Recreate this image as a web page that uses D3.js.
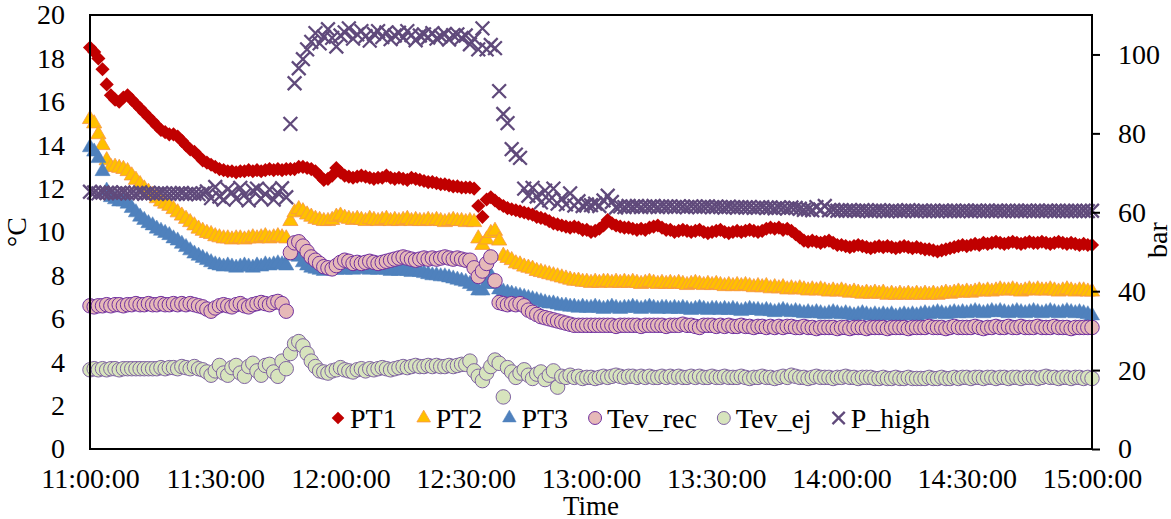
<!DOCTYPE html>
<html>
<head>
<meta charset="utf-8">
<script src="https://cdn.jsdelivr.net/npm/d3@7"></script>
<style>
  body { margin: 0; background: #fff; }
  svg { display: block; font-family: "Liberation Serif", "Times New Roman", serif; }
</style>
</head>
<body>
<svg id="chart"></svg>
<script>
// samples every minute from 11:00:00 to 15:00:00
var startTime = '11:00:00'
var stepMinutes = 1

var timeTicks = ['11:00:00', '11:30:00', '12:00:00', '12:30:00', '13:00:00', '13:30:00', '14:00:00', '14:30:00', '15:00:00']
var tempTicks = [0, 2, 4, 6, 8, 10, 12, 14, 16, 18, 20]
var pressTicks = [0, 20, 40, 60, 80, 100]

var seriesNames = ['PT1', 'PT2', 'PT3', 'Tev_rec', 'Tev_ej', 'P_high']

var pt1 = [
  18.5, 18.3, 18.0, 17.5, 16.8, 16.3, 16.1, 16.0, 16.2, 16.3,
  16.1, 15.9, 15.7, 15.5, 15.3, 15.1, 14.9, 14.7, 14.6, 14.5,
  14.5, 14.4, 14.2, 14.0, 13.8, 13.7, 13.5, 13.3, 13.2, 13.1,
  13.0, 12.9, 12.85, 12.8, 12.8, 12.75, 12.8, 12.8, 12.85, 12.8,
  12.85, 12.8, 12.85, 12.9, 12.85, 12.9, 12.85, 12.9, 12.9, 12.9,
  13.0, 13.0, 12.95, 12.9, 12.8, 12.6, 12.4, 12.45, 12.6, 12.95,
  12.75, 12.6, 12.55, 12.5, 12.55, 12.6, 12.55, 12.5, 12.45, 12.5,
  12.5, 12.6, 12.5, 12.45, 12.5, 12.45, 12.4, 12.5, 12.45, 12.4,
  12.35, 12.3, 12.3, 12.25, 12.2, 12.2, 12.15, 12.1, 12.1, 12.05,
  12.05, 12.05, 12.0, 11.2, 10.7, 11.5, 11.6, 11.45, 11.3, 11.2,
  11.1, 11.05, 11.0, 10.95, 10.9, 10.85, 10.8, 10.7, 10.65, 10.6,
  10.5, 10.4, 10.35, 10.3, 10.25, 10.2, 10.25, 10.2, 10.1, 10.1,
  10.0, 10.05, 10.15, 10.3, 10.55, 10.4, 10.3, 10.25, 10.2, 10.2,
  10.15, 10.1, 10.15, 10.1, 10.2, 10.25, 10.3, 10.2, 10.1, 10.1,
  10.0, 10.05, 10.1, 10.05, 10.0, 10.05, 10.1, 10.0, 9.95, 10.0,
  10.05, 10.1, 10.0, 9.95, 10.0, 10.05, 10.0, 10.05, 10.1, 10.05,
  10.0, 10.05, 10.15, 10.2, 10.15, 10.2, 10.1, 10.15, 10.05, 9.9,
  9.75, 9.6, 9.55, 9.6, 9.55, 9.5, 9.55, 9.6, 9.5, 9.4,
  9.4, 9.35, 9.3, 9.35, 9.4, 9.35, 9.3, 9.25, 9.3, 9.35,
  9.3, 9.35, 9.3, 9.25, 9.3, 9.35, 9.3, 9.25, 9.3, 9.25,
  9.2, 9.2, 9.15, 9.1, 9.15, 9.2, 9.25, 9.3, 9.35, 9.4,
  9.35, 9.4, 9.45, 9.4, 9.5, 9.45, 9.5, 9.55, 9.5, 9.45,
  9.5, 9.55, 9.5, 9.45, 9.5, 9.55, 9.5, 9.5, 9.55, 9.5,
  9.45, 9.5, 9.55, 9.5, 9.45, 9.5, 9.45, 9.4, 9.45, 9.4, 9.4
]

var pt2 = [
  15.2, 15.0, 14.5, 14.0, 13.3, 13.0, 13.0, 12.95, 12.9, 12.8,
  12.6, 12.4, 12.2, 12.0, 11.85, 11.7, 11.55, 11.4, 11.3, 11.2,
  11.05, 10.9, 10.75, 10.6, 10.45, 10.3, 10.15, 10.05, 9.95, 9.9,
  9.8, 9.75, 9.7, 9.7, 9.65, 9.7, 9.7, 9.65, 9.7, 9.75,
  9.7, 9.75, 9.8, 9.7, 9.75, 9.8, 9.75, 9.7, 10.5, 10.9,
  11.05, 10.95, 10.8, 10.7, 10.6, 10.55, 10.5, 10.5, 10.55, 10.7,
  10.75, 10.65, 10.6, 10.55, 10.6, 10.55, 10.5, 10.6, 10.55, 10.5,
  10.55, 10.6, 10.5, 10.55, 10.5, 10.55, 10.6, 10.5, 10.55, 10.5,
  10.5, 10.55, 10.5, 10.55, 10.5, 10.45, 10.5, 10.55, 10.5, 10.5,
  10.45, 10.5, 10.45, 9.7, 9.4, 9.65, 9.95, 10.05, 9.6, 8.9,
  8.8, 8.7, 8.55, 8.5, 8.4, 8.35, 8.3, 8.2, 8.15, 8.1,
  8.05, 8.0, 7.95, 7.9, 7.85, 7.8, 7.75, 7.75, 7.7, 7.7,
  7.65, 7.7, 7.65, 7.7, 7.7, 7.65, 7.7, 7.65, 7.7, 7.65,
  7.7, 7.65, 7.6, 7.65, 7.7, 7.65, 7.6, 7.65, 7.6, 7.65,
  7.6, 7.65, 7.6, 7.55, 7.6, 7.65, 7.6, 7.55, 7.6, 7.55,
  7.6, 7.55, 7.5, 7.55, 7.5, 7.55, 7.5, 7.55, 7.5, 7.45,
  7.5, 7.45, 7.5, 7.4, 7.45, 7.4, 7.45, 7.35, 7.4, 7.35,
  7.4, 7.35, 7.3, 7.35, 7.3, 7.35, 7.3, 7.25, 7.3, 7.25,
  7.3, 7.25, 7.2, 7.25, 7.2, 7.15, 7.2, 7.15, 7.2, 7.15,
  7.2, 7.1, 7.15, 7.1, 7.15, 7.1, 7.15, 7.1, 7.15, 7.1,
  7.15, 7.1, 7.15, 7.1, 7.15, 7.2, 7.15, 7.2, 7.25, 7.2,
  7.25, 7.2, 7.25, 7.3, 7.25, 7.3, 7.25, 7.3, 7.35, 7.3,
  7.3, 7.35, 7.3, 7.25, 7.3, 7.35, 7.3, 7.35, 7.3, 7.3,
  7.35, 7.3, 7.25, 7.3, 7.35, 7.3, 7.25, 7.3, 7.3, 7.25, 7.25
]

var pt3 = [
  13.9, 13.7, 13.4, 12.8, 11.9, 11.6, 11.5, 11.4, 11.4, 11.3,
  11.1, 10.9, 10.7, 10.55, 10.4, 10.3, 10.15, 10.05, 9.95, 9.85,
  9.7, 9.6, 9.45, 9.3, 9.15, 9.0, 8.9, 8.8, 8.7, 8.6,
  8.5, 8.45, 8.4, 8.45, 8.4, 8.35, 8.4, 8.45, 8.4, 8.35,
  8.45, 8.4, 8.5, 8.45, 8.5, 8.55, 8.5, 8.45, 8.9, 9.1,
  8.85, 8.6, 8.45, 8.35, 8.3, 8.25, 8.2, 8.25, 8.3, 8.25,
  8.3, 8.25, 8.3, 8.25, 8.3, 8.35, 8.3, 8.25, 8.3, 8.25,
  8.3, 8.25, 8.2, 8.25, 8.2, 8.25, 8.2, 8.15, 8.2, 8.15,
  8.1, 8.05, 8.0, 8.0, 7.95, 7.95, 7.9, 7.85, 7.8, 7.75,
  7.7, 7.6, 7.5, 7.3, 7.3, 7.6, 8.0, 7.6, 7.35, 7.25,
  7.2, 7.15, 7.1, 7.05, 7.0, 6.95, 6.9, 6.85, 6.8, 6.75,
  6.7, 6.7, 6.65, 6.6, 6.6, 6.55, 6.55, 6.5, 6.55, 6.5,
  6.5, 6.55, 6.5, 6.45, 6.5, 6.55, 6.5, 6.45, 6.5, 6.5,
  6.55, 6.5, 6.45, 6.5, 6.55, 6.5, 6.45, 6.5, 6.5, 6.45,
  6.5, 6.45, 6.5, 6.45, 6.4, 6.45, 6.5, 6.45, 6.4, 6.45,
  6.45, 6.4, 6.45, 6.4, 6.45, 6.4, 6.35, 6.4, 6.45, 6.4,
  6.4, 6.35, 6.4, 6.35, 6.3, 6.35, 6.4, 6.35, 6.3, 6.35,
  6.3, 6.25, 6.3, 6.25, 6.3, 6.25, 6.2, 6.25, 6.3, 6.25,
  6.2, 6.25, 6.2, 6.15, 6.2, 6.25, 6.2, 6.15, 6.2, 6.15,
  6.2, 6.15, 6.2, 6.1, 6.15, 6.2, 6.15, 6.2, 6.15, 6.2,
  6.25, 6.2, 6.25, 6.3, 6.25, 6.2, 6.25, 6.3, 6.25, 6.3,
  6.25, 6.3, 6.35, 6.3, 6.25, 6.3, 6.35, 6.3, 6.35, 6.3,
  6.25, 6.3, 6.35, 6.3, 6.25, 6.3, 6.35, 6.3, 6.25, 6.3,
  6.35, 6.3, 6.25, 6.3, 6.35, 6.3, 6.25, 6.3, 6.25, 6.2, 6.15
]

var tevRec = [
  6.6, 6.55, 6.6, 6.6, 6.65, 6.6, 6.65, 6.65, 6.6, 6.65,
  6.65, 6.7, 6.65, 6.65, 6.7, 6.65, 6.65, 6.7, 6.65, 6.65,
  6.7, 6.65, 6.7, 6.65, 6.7, 6.65, 6.6, 6.55, 6.45, 6.35,
  6.5, 6.6, 6.65, 6.6, 6.55, 6.65, 6.7, 6.6, 6.55, 6.65,
  6.7, 6.75, 6.7, 6.65, 6.75, 6.8, 6.7, 6.35, 9.05, 9.5,
  9.55, 9.35, 9.1, 8.85, 8.7, 8.55, 8.4, 8.35, 8.3, 8.45,
  8.6, 8.7, 8.65, 8.55, 8.6, 8.55, 8.6, 8.65, 8.6, 8.55,
  8.6, 8.65, 8.7, 8.75, 8.8, 8.85, 8.8, 8.75, 8.7, 8.75,
  8.8, 8.75, 8.8, 8.75, 8.8, 8.85, 8.8, 8.75, 8.8, 8.75,
  8.7, 8.7, 8.35, 7.95, 8.2, 8.55, 8.85, 7.75, 6.75, 6.7,
  6.65, 6.7, 6.65, 6.7, 6.6, 6.4, 6.3, 6.2, 6.1, 6.05,
  6.0, 5.95, 5.9, 5.85, 5.8, 5.75, 5.7, 5.7, 5.7, 5.7,
  5.7, 5.7, 5.7, 5.7, 5.7, 5.7, 5.65, 5.7, 5.7, 5.7,
  5.7, 5.7, 5.65, 5.7, 5.7, 5.7, 5.7, 5.7, 5.65, 5.7,
  5.7, 5.7, 5.75, 5.7, 5.7, 5.65, 5.6, 5.7, 5.7, 5.7,
  5.65, 5.7, 5.65, 5.7, 5.65, 5.65, 5.7, 5.65, 5.65, 5.6,
  5.65, 5.65, 5.6, 5.65, 5.6, 5.65, 5.6, 5.65, 5.65, 5.6,
  5.6, 5.65, 5.6, 5.6, 5.55, 5.6, 5.6, 5.6, 5.6, 5.55,
  5.6, 5.6, 5.55, 5.6, 5.6, 5.6, 5.55, 5.6, 5.6, 5.6,
  5.6, 5.55, 5.6, 5.6, 5.6, 5.6, 5.55, 5.6, 5.6, 5.6,
  5.6, 5.65, 5.6, 5.6, 5.6, 5.55, 5.6, 5.65, 5.6, 5.6,
  5.6, 5.6, 5.65, 5.6, 5.55, 5.6, 5.6, 5.65, 5.6, 5.6,
  5.65, 5.6, 5.6, 5.65, 5.6, 5.6, 5.6, 5.65, 5.6, 5.6,
  5.6, 5.65, 5.6, 5.6, 5.6, 5.55, 5.6, 5.6, 5.6, 5.6, 5.6
]

var tevEj = [
  3.65, 3.7, 3.65, 3.7, 3.65, 3.7, 3.7, 3.65, 3.7, 3.7,
  3.7, 3.7, 3.7, 3.7, 3.7, 3.7, 3.7, 3.75, 3.7, 3.75,
  3.75, 3.7, 3.8, 3.75, 3.7, 3.8, 3.7, 3.65, 3.55, 3.4,
  3.6, 3.85, 3.5, 3.4, 3.75, 3.85, 3.5, 3.35, 3.8, 3.95,
  3.6, 3.4, 3.85, 3.9, 3.55, 3.35, 4.05, 3.7, 4.4, 4.85,
  4.95, 4.75, 4.4, 4.05, 3.8, 3.6, 3.55, 3.5, 3.6, 3.65,
  3.75, 3.65, 3.6, 3.55, 3.65, 3.7, 3.6, 3.7, 3.65, 3.7,
  3.75, 3.7, 3.65, 3.7, 3.75, 3.8, 3.75, 3.8, 3.85, 3.8,
  3.8, 3.85, 3.8, 3.85, 3.8, 3.8, 3.85, 3.8, 3.85, 3.9,
  3.9, 4.05, 3.6, 3.35, 3.15, 3.5, 3.8, 4.1, 3.95, 2.4,
  3.75, 3.55, 3.3, 3.5, 3.65, 3.4, 3.25, 3.45, 3.55, 3.2,
  3.4, 3.6, 2.85, 3.35, 3.3, 3.4, 3.3, 3.35, 3.25, 3.3,
  3.3, 3.25, 3.3, 3.35, 3.3, 3.35, 3.4, 3.35, 3.3, 3.35,
  3.35, 3.3, 3.35, 3.3, 3.35, 3.3, 3.3, 3.35, 3.3, 3.35,
  3.3, 3.35, 3.3, 3.3, 3.35, 3.3, 3.35, 3.3, 3.3, 3.35,
  3.3, 3.3, 3.35, 3.3, 3.3, 3.3, 3.35, 3.3, 3.25, 3.3,
  3.3, 3.35, 3.3, 3.3, 3.25, 3.3, 3.35, 3.3, 3.4, 3.35,
  3.3, 3.3, 3.25, 3.3, 3.35, 3.3, 3.3, 3.3, 3.25, 3.3,
  3.3, 3.35, 3.3, 3.3, 3.25, 3.3, 3.3, 3.3, 3.25, 3.25,
  3.3, 3.25, 3.25, 3.3, 3.25, 3.25, 3.3, 3.25, 3.25, 3.25,
  3.25, 3.3, 3.25, 3.25, 3.3, 3.25, 3.25, 3.3, 3.25, 3.3,
  3.3, 3.25, 3.3, 3.3, 3.25, 3.3, 3.3, 3.25, 3.3, 3.3,
  3.25, 3.3, 3.3, 3.25, 3.3, 3.3, 3.3, 3.25, 3.3, 3.35,
  3.3, 3.3, 3.25, 3.3, 3.3, 3.25, 3.3, 3.3, 3.25, 3.3, 3.25
]

var pHigh = [
  65.2, 65.0, 64.8, 65.0, 64.9, 65.0, 64.8, 64.9, 65.0, 64.8,
  64.9, 64.8, 65.0, 64.7, 64.9, 64.8, 64.7, 64.9, 64.8, 64.7,
  64.8, 64.7, 64.9, 64.6, 64.8, 64.7, 64.6, 64.8, 65.3, 63.6,
  66.4, 64.0, 63.2, 65.8, 65.0, 63.4, 66.2, 64.4, 63.0, 65.5,
  66.0, 63.5, 64.6, 65.8, 63.2, 64.9, 66.1, 63.8, 82.4, 92.7,
  96.5, 98.8, 101.3, 103.2, 105.4, 102.8, 104.5, 106.4, 104.2, 102.0,
  104.8, 105.6, 106.6, 104.0, 105.1, 105.9, 104.6, 103.5, 105.2, 105.9,
  104.4, 105.6, 103.9, 104.8, 105.5, 104.2, 105.9, 104.9, 103.6, 104.8,
  105.1, 104.3, 105.4, 104.0, 104.6, 105.2, 103.8, 104.9, 105.1, 104.2,
  104.8, 102.6, 104.0, 101.3, 106.6, 101.3, 102.4, 101.6, 90.7, 84.9,
  82.6, 76.0, 74.6, 73.8, 66.0, 64.2, 66.2, 64.0, 62.5, 65.5,
  63.0, 66.0, 62.2, 63.5, 62.0, 64.8, 61.7, 62.8, 61.6, 62.0,
  61.8, 62.2, 61.6, 63.0, 64.2, 62.6, 61.2, 61.5, 61.3, 61.6,
  61.4, 61.6, 61.3, 61.5, 61.4, 61.6, 61.3, 61.5, 61.4, 61.5,
  61.3, 61.5, 61.4, 61.3, 61.5, 61.4, 61.3, 61.4, 61.5, 61.3,
  61.4, 61.3, 61.2, 61.4, 61.3, 61.2, 61.3, 61.2, 61.3, 61.1,
  61.2, 61.3, 61.1, 61.2, 61.0, 61.2, 61.1, 61.0, 61.2, 61.1,
  60.9, 60.6, 60.7, 60.5, 61.3, 60.6, 61.6, 60.5, 60.6, 60.4,
  60.5, 60.4, 60.5, 60.4, 60.4, 60.5, 60.4, 60.3, 60.4, 60.5,
  60.4, 60.3, 60.4, 60.4, 60.3, 60.4, 60.5, 60.4, 60.3, 60.4,
  60.4, 60.3, 60.4, 60.3, 60.4, 60.4, 60.3, 60.4, 60.3, 60.4,
  60.4, 60.3, 60.4, 60.4, 60.3, 60.4, 60.3, 60.4, 60.4, 60.3,
  60.4, 60.3, 60.4, 60.3, 60.4, 60.4, 60.3, 60.4, 60.3, 60.4,
  60.4, 60.3, 60.4, 60.3, 60.4, 60.3, 60.4, 60.3, 60.4, 60.3, 60.4
]

var W = 1171, H = 519
var margin = {top: 15, right: 79, bottom: 70, left: 90}
var width = W - margin.left - margin.right
var height = H - margin.top - margin.bottom

var parseTime = d3.timeParse('%H:%M:%S')
var t0 = parseTime(startTime)

var svg = d3.select('#chart').attr('width', W).attr('height', H)
svg.append('rect').attr('width', W).attr('height', H).attr('fill', '#fff')

var g = svg.append('g').attr('transform', 'translate(' + margin.left + ',' + margin.top + ')')

var x = d3.scaleTime()
  .domain([parseTime(timeTicks[0]), parseTime(timeTicks[timeTicks.length - 1])])
  .range([0, width])
var yT = d3.scaleLinear().domain([0, 20]).range([height, 0])
var yP = d3.scaleLinear().domain([0, 110]).range([height, 0])

function timeAt (i) { return new Date(t0.getTime() + i * stepMinutes * 60000) }

// marker styles per series
var styles = {
  PT1: {shape: d3.symbolSquare, size: 100, rotate: 45, fill: '#C00000', stroke: 'none', sw: 0},
  PT2: {shape: d3.symbolTriangle, size: 100, rotate: 0, fill: '#FFC000', stroke: '#F79646', sw: 0.8},
  PT3: {shape: d3.symbolTriangle, size: 100, rotate: 0, fill: '#4F81BD', stroke: '#4F81BD', sw: 0.5},
  Tev_rec: {shape: d3.symbolCircle, size: 165, rotate: 0, fill: '#E6B9B8', stroke: '#7030A0', sw: 1},
  Tev_ej: {shape: d3.symbolCircle, size: 165, rotate: 0, fill: '#D7E4BD', stroke: '#8064A2', sw: 1},
  P_high: {shape: d3.symbolTimes, size: 125, rotate: 0, fill: 'none', stroke: '#604A7B', sw: 2.3}
}

var seriesData = {PT1: pt1, PT2: pt2, PT3: pt3, Tev_rec: tevRec, Tev_ej: tevEj, P_high: pHigh}

function styleMarker (sel, name, scale) {
  var s = styles[name]
  sel.attr('d', d3.symbol().type(s.shape).size(s.size * (scale || 1))())
    .attr('fill', s.fill)
    .attr('stroke', s.stroke)
    .attr('stroke-width', s.sw)
}

// draw series in Excel order, P_high (secondary axis) on top
seriesNames.forEach(function (name) {
  var yScale = name === 'P_high' ? yP : yT
  var rot = styles[name].rotate
  g.append('g').selectAll('path')
      .data(seriesData[name])
    .enter().append('path')
      .call(styleMarker, name)
      .attr('transform', function (d, i) {
        return 'translate(' + x(timeAt(i)) + ',' + yScale(d) + ')' + (rot ? ' rotate(' + rot + ')' : '')
      })
})

// frame
g.append('rect')
  .attr('width', width).attr('height', height)
  .attr('fill', 'none').attr('stroke', '#000').attr('stroke-width', 2)

// axes
var fontSize = 28

var xAxis = g.append('g')
  .attr('transform', 'translate(0,' + height + ')')
  .call(d3.axisBottom(x)
    .tickValues(timeTicks.map(parseTime))
    .tickFormat(d3.timeFormat('%H:%M:%S'))
    .tickSize(0).tickPadding(19))

var yAxisL = g.append('g')
  .call(d3.axisLeft(yT).tickValues(tempTicks).tickSize(0).tickPadding(25))

var yAxisR = g.append('g')
  .attr('transform', 'translate(' + width + ',0)')
  .call(d3.axisRight(yP).tickValues(pressTicks).tickSize(8).tickPadding(18))

;[xAxis, yAxisL, yAxisR].forEach(function (a) {
  a.select('.domain').remove()
  a.selectAll('text')
    .attr('font-family', '"Liberation Serif", "Times New Roman", serif')
    .attr('font-size', fontSize)
    .attr('fill', '#000')
  a.selectAll('line').attr('stroke', '#000').attr('stroke-width', 2)
})

// axis titles
svg.append('text')
  .attr('x', margin.left + width / 2).attr('y', 515)
  .attr('text-anchor', 'middle')
  .attr('font-size', 27)
  .text('Time')

svg.append('text')
  .attr('transform', 'translate(16,' + (margin.top + height / 2) + ') rotate(-90)')
  .attr('text-anchor', 'middle')
  .attr('dominant-baseline', 'central')
  .attr('font-size', fontSize)
  .text('°C')

svg.append('text')
  .attr('transform', 'translate(1157,240) rotate(-90)')
  .attr('text-anchor', 'middle')
  .attr('dominant-baseline', 'central')
  .attr('font-size', fontSize)
  .text('bar')

// legend
var legend = svg.append('g')
var lx = 338
var legendY = 418
seriesNames.forEach(function (name) {
  var rot = styles[name].rotate
  legend.append('path')
    .call(styleMarker, name, 0.8)
    .attr('transform', 'translate(' + lx + ',' + legendY + ')' + (rot ? ' rotate(' + rot + ')' : ''))
  var t = legend.append('text')
    .attr('x', lx + 12)
    .attr('y', legendY + 10)
    .attr('font-size', fontSize)
    .text(name)
  lx = lx + 12 + t.node().getComputedTextLength() + 27
})
</script>
</body>
</html>
